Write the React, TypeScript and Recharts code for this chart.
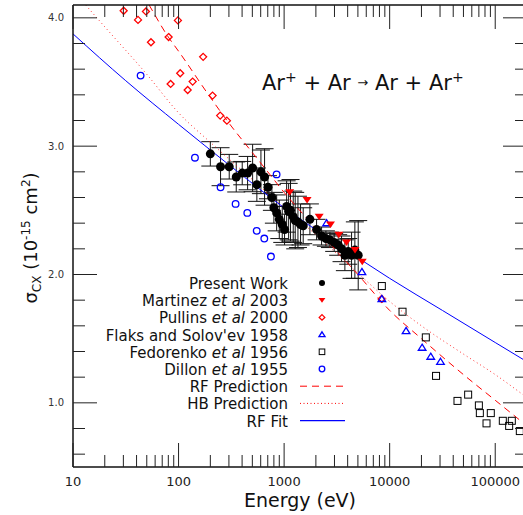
import React from 'react';
import {
  ComposedChart,
  Scatter,
  Line,
  XAxis,
  YAxis,
  ErrorBar,
  Legend,
} from 'recharts';

// energies in eV, cross sections in units of 1e-15 cm^2
const presentEnergy = [200, 250, 302, 352, 401, 451, 503, 552, 603, 653, 703, 766, 800, 850, 900, 960, 1010, 1057, 1104, 1150, 1220, 1274, 1352, 1432, 1517, 1755, 2031, 2265, 2489, 2716, 2981, 3253, 3500, 3764, 4048, 4356, 4680, 5034];
const presentSigma = [2.94, 2.84, 2.84, 2.76, 2.79, 2.79, 2.83, 2.7, 2.8, 2.76, 2.68, 2.6, 2.52, 2.48, 2.43, 2.39, 2.35, 2.53, 2.49, 2.5, 2.45, 2.42, 2.41, 2.39, 2.38, 2.43, 2.35, 2.3, 2.28, 2.27, 2.25, 2.23, 2.2, 2.15, 2.18, 2.15, 2.19, 2.15];
const presentErr = [0.095, 0.148, 0.096, 0.117, 0.091, 0.13, 0.185, 0.13, 0.17, 0.22, 0.09, 0.1, 0.12, 0.14, 0.15, 0.14, 0.12, 0.2, 0.22, 0.24, 0.2, 0.22, 0.2, 0.16, 0.14, 0.12, 0.08, 0.07, 0.06, 0.06, 0.07, 0.08, 0.1, 0.12, 0.1, 0.18, 0.22, 0.27];

const martinezEnergy = [1130, 1650, 2150, 2750, 3300, 3900, 4700, 5500];
const martinezSigma = [2.64, 2.58, 2.45, 2.39, 2.31, 2.25, 2.19, 2.1];

const pullinsEnergy = [30.2, 41.3, 49.1, 54.8, 80.5, 84.1, 98.6, 103.7, 122, 136, 171, 210, 248, 287, 8380];
const pullinsSigma = [4.055, 3.984, 4.05, 3.81, 3.85, 3.485, 3.98, 3.568, 3.438, 3.503, 3.696, 3.394, 3.238, 3.199, 1.81];

const flaksEnergy = [2524, 5460, 8430, 14300, 20300, 24500, 30300];
const flaksSigma = [2.4, 2.02, 1.81, 1.56, 1.43, 1.36, 1.32];

const fedorenkoEnergy = [8430, 13240, 22000, 27500, 43900, 55400, 70000, 71500, 82700, 90800, 118000, 135500, 143600, 171000];
const fedorenkoSigma = [1.91, 1.71, 1.51, 1.21, 1.015, 1.064, 0.98, 0.92, 0.84, 0.92, 0.86, 0.82, 0.86, 0.78];

const dillonEnergy = [43.7, 143, 250, 347, 448, 550, 649, 750, 849];
const dillonSigma = [3.55, 2.91, 2.68, 2.55, 2.48, 2.34, 2.28, 2.14, 2.78];

const rfFitEnergy = [10, 31.6, 100, 316, 1000, 3162, 10000, 31623, 100000, 200000];
const rfFitSigma = [3.875, 3.51, 3.17, 2.84, 2.52, 2.24, 1.97, 1.72, 1.47, 1.32];

const rfPredEnergy = [40, 50, 80, 100, 200, 300, 500, 700, 1000, 2000, 5000, 10000, 20000, 50000, 100000, 200000];
const rfPredSigma = [4.26, 4.13, 3.85, 3.74, 3.38, 3.18, 2.95, 2.8, 2.64, 2.36, 2.0, 1.72, 1.5, 1.22, 1.02, 0.82];

const hbPredEnergy = [10, 13.2, 20, 50, 100, 200, 500, 1000, 2000, 5000, 10000, 20000, 50000, 100000, 200000];
const hbPredSigma = [4.22, 4.1, 3.93, 3.56, 3.26, 3.03, 2.74, 2.52, 2.31, 2.01, 1.79, 1.6, 1.38, 1.22, 1.04];

const decades = [10, 100, 1000, 10000, 100000];
const minorSteps = [2, 3, 4, 5, 6, 7, 8, 9];
const xTicks = [...decades, ...decades.flatMap((d) => minorSteps.map((m) => d * m))].filter((t) => t <= 200000);
const yTicks = [0.6, 0.8, 1.0, 1.2, 1.4, 1.6, 1.8, 2.0, 2.2, 2.4, 2.6, 2.8, 3.0, 3.2, 3.4, 3.6, 3.8, 4.0];
const yMajor = [1.0, 2.0, 3.0, 4.0];

const rows = (e: number[], v: number[]) => e.map((x, i) => ({ e: x, v: v[i] }));
const presentData = presentEnergy.map((x, i) => ({ e: x, v: presentSigma[i], err: presentErr[i] }));

const FONT = '"DejaVu Sans", sans-serif';
const RED = '#ff0000';
const BLUE = '#0000ff';

const W = 528;
const H = 515;

// marker shapes, shared by the plot and the key
const Dot = ({ cx, cy, r = 4.5 }: any) => <circle cx={cx} cy={cy} r={r} fill="#000" />;
const DownTri = ({ cx, cy, s = 1 }: any) => (
  <polygon
    points={`${cx - 4.5 * s},${cy - 3 * s} ${cx + 4.5 * s},${cy - 3 * s} ${cx},${cy + 3.5 * s}`}
    fill={RED}
  />
);
const Diamond = ({ cx, cy, s = 1 }: any) => (
  <polygon
    points={`${cx},${cy - 3.5 * s} ${cx + 3.5 * s},${cy} ${cx},${cy + 3.5 * s} ${cx - 3.5 * s},${cy}`}
    fill="none"
    stroke={RED}
    strokeWidth={1.3}
  />
);
const UpTri = ({ cx, cy, s = 1 }: any) => (
  <polygon
    points={`${cx},${cy - 3.5 * s} ${cx + 3.8 * s},${cy + 2.6 * s} ${cx - 3.8 * s},${cy + 2.6 * s}`}
    fill="none"
    stroke={BLUE}
    strokeWidth={1.3}
  />
);
const Square = ({ cx, cy, s = 1 }: any) => (
  <rect x={cx - 3.5 * s} y={cy - 3.5 * s} width={7 * s} height={7 * s} fill="none" stroke="#000" strokeWidth={1} />
);
const Ring = ({ cx, cy, s = 1 }: any) => (
  <circle cx={cx} cy={cy} r={3.3 * s} fill="none" stroke={BLUE} strokeWidth={1.3} />
);

// inward ticks on all four sides; labels only on bottom and left
const BottomTick = ({ x, y, payload }: any) => {
  const major = decades.includes(payload.value);
  return (
    <g>
      <line x1={x} y1={y} x2={x} y2={y - (major ? 24 : 12)} stroke="#222" />
      {major && (
        <text x={x} y={y + 19} textAnchor="middle" fontSize={13} fontFamily={FONT} fill="#222">
          {payload.value}
        </text>
      )}
    </g>
  );
};
const TopTick = ({ x, y, payload }: any) => {
  const major = decades.includes(payload.value);
  return <line x1={x} y1={y} x2={x} y2={y + (major ? 24 : 12)} stroke="#222" />;
};
const LeftTick = ({ x, y, payload }: any) => {
  const major = yMajor.includes(payload.value);
  return (
    <g>
      <line x1={x} y1={y} x2={x + (major ? 24 : 12)} y2={y} stroke="#222" />
      {major && (
        <text x={x - 9} y={y + 3.5} textAnchor="end" fontSize={10} fontFamily={FONT} fill="#333">
          {payload.value.toFixed(1)}
        </text>
      )}
    </g>
  );
};
const RightTick = ({ x, y, payload }: any) => {
  const major = yMajor.includes(payload.value);
  return <line x1={x} y1={y} x2={x - (major ? 24 : 12)} y2={y} stroke="#222" />;
};

const keyRows = [
  { text: <>Present Work</>, mark: (cx: number, cy: number) => <Dot cx={cx} cy={cy} r={3} /> },
  { text: <>Martinez <tspan fontStyle="italic">et al</tspan> 2003</>, mark: (cx: number, cy: number) => <DownTri cx={cx} cy={cy} s={0.75} /> },
  { text: <>Pullins <tspan fontStyle="italic">et al</tspan> 2000</>, mark: (cx: number, cy: number) => <Diamond cx={cx} cy={cy} s={0.8} /> },
  { text: <>Flaks and Solov'ev 1958</>, mark: (cx: number, cy: number) => <UpTri cx={cx} cy={cy} s={0.8} /> },
  { text: <>Fedorenko <tspan fontStyle="italic">et al</tspan> 1956</>, mark: (cx: number, cy: number) => <Square cx={cx} cy={cy} s={0.8} /> },
  { text: <>Dillon <tspan fontStyle="italic">et al</tspan> 1955</>, mark: (cx: number, cy: number) => <Ring cx={cx} cy={cy} s={0.85} /> },
  { text: <>RF Prediction</>, mark: (_: number, cy: number) => <line x1={300} x2={345} y1={cy} y2={cy} stroke={RED} strokeDasharray="7 5" /> },
  { text: <>HB Prediction</>, mark: (_: number, cy: number) => <line x1={300} x2={345} y1={cy} y2={cy} stroke={RED} strokeDasharray="1 2.5" /> },
  { text: <>RF Fit</>, mark: (_: number, cy: number) => <line x1={300} x2={345} y1={cy} y2={cy} stroke={BLUE} strokeWidth={1.2} /> },
];

const renderKey = () => (
  <svg width={W} height={H} style={{ fontFamily: FONT }}>
    <text x={262} y={90} fontSize={21} fill="#111">
      Ar<tspan dy={-8} fontSize={14}>+</tspan>
      <tspan dy={8}> + Ar </tspan>
      <tspan dy={-3} fontSize={13}>→</tspan>
      <tspan dy={3}> Ar + Ar</tspan>
      <tspan dy={-8} fontSize={14}>+</tspan>
    </text>
    <text x={300} y={507} textAnchor="middle" fontSize={19} fill="#111">
      Energy (eV)
    </text>
    <text transform="translate(37,238) rotate(-90)" textAnchor="middle" fontSize={18} fill="#111">
      σ<tspan dy={4} fontSize={12}>CX</tspan>
      <tspan dy={-4}> (10</tspan>
      <tspan dy={-7} fontSize={12}>-15</tspan>
      <tspan dy={7}> cm</tspan>
      <tspan dy={-7} fontSize={12}>2</tspan>
      <tspan dy={7}>)</tspan>
    </text>
    {keyRows.map((row, i) => {
      const base = 289 + i * 17.2;
      return (
        <g key={i}>
          <text x={288} y={base} textAnchor="end" fontSize={15} fill="#111">
            {row.text}
          </text>
          {row.mark(322, base - 6)}
        </g>
      );
    })}
  </svg>
);

const App = () => {
  return (
    <div style={{ width: 523, height: H, overflow: 'hidden', position: 'relative' }}>
      <style>{'body { margin: 0; }'}</style>
      <ComposedChart width={W} height={H} margin={{ top: 4, right: 0, bottom: 0, left: 0 }}>
        <XAxis
          xAxisId="bottom"
          dataKey="e"
          type="number"
          scale="log"
          domain={[10, 200000]}
          allowDataOverflow
          ticks={xTicks}
          interval={0}
          tickSize={0}
          tickMargin={0}
          height={48}
          axisLine={{ stroke: '#111', strokeWidth: 1.5 }}
          tick={(p: any) => <BottomTick {...p} />}
        />
        <XAxis
          xAxisId="top"
          orientation="top"
          dataKey="e"
          type="number"
          scale="log"
          domain={[10, 200000]}
          allowDataOverflow
          ticks={xTicks}
          interval={0}
          tickSize={0}
          tickMargin={0}
          height={1}
          axisLine={{ stroke: '#111', strokeWidth: 1.5 }}
          tick={(p: any) => <TopTick {...p} />}
        />
        <YAxis
          yAxisId="left"
          dataKey="v"
          type="number"
          domain={[0.5, 4.1]}
          allowDataOverflow
          ticks={yTicks}
          interval={0}
          tickSize={0}
          tickMargin={0}
          width={73}
          axisLine={{ stroke: '#111', strokeWidth: 1.5 }}
          tick={(p: any) => <LeftTick {...p} />}
        />
        <YAxis
          yAxisId="right"
          orientation="right"
          type="number"
          domain={[0.5, 4.1]}
          allowDataOverflow
          ticks={yTicks}
          interval={0}
          tickSize={0}
          tickMargin={0}
          width={1}
          axisLine={{ stroke: '#111', strokeWidth: 1.5 }}
          tick={(p: any) => <RightTick {...p} />}
        />

        <Scatter
          name="Fedorenko et al 1956"
          xAxisId="bottom"
          yAxisId="left"
          data={rows(fedorenkoEnergy, fedorenkoSigma)}
          dataKey="v"
          isAnimationActive={false}
          shape={(p: any) => <Square cx={p.cx} cy={p.cy} />}
        />
        <Scatter
          name="Dillon et al 1955"
          xAxisId="bottom"
          yAxisId="left"
          data={rows(dillonEnergy, dillonSigma)}
          dataKey="v"
          isAnimationActive={false}
          shape={(p: any) => <Ring cx={p.cx} cy={p.cy} />}
        />
        <Scatter
          name="Present Work"
          xAxisId="bottom"
          yAxisId="left"
          data={presentData}
          dataKey="v"
          isAnimationActive={false}
          shape={(p: any) => <Dot cx={p.cx} cy={p.cy} />}
        >
          <ErrorBar dataKey="err" direction="y" width={9} stroke="#111" strokeWidth={1} isAnimationActive={false} />
        </Scatter>
        <Scatter
          name="Pullins et al 2000"
          xAxisId="bottom"
          yAxisId="left"
          data={rows(pullinsEnergy, pullinsSigma)}
          dataKey="v"
          isAnimationActive={false}
          shape={(p: any) => <Diamond cx={p.cx} cy={p.cy} />}
        />
        <Scatter
          name="Flaks and Solov'ev 1958"
          xAxisId="bottom"
          yAxisId="left"
          data={rows(flaksEnergy, flaksSigma)}
          dataKey="v"
          isAnimationActive={false}
          shape={(p: any) => <UpTri cx={p.cx} cy={p.cy} />}
        />
        <Scatter
          name="Martinez et al 2003"
          xAxisId="bottom"
          yAxisId="left"
          data={rows(martinezEnergy, martinezSigma)}
          dataKey="v"
          isAnimationActive={false}
          shape={(p: any) => <DownTri cx={p.cx} cy={p.cy} />}
        />

        <Line
          name="RF Prediction"
          xAxisId="bottom"
          yAxisId="left"
          data={rows(rfPredEnergy, rfPredSigma)}
          dataKey="v"
          type="monotone"
          stroke={RED}
          strokeWidth={1}
          strokeDasharray="7 5"
          dot={false}
          isAnimationActive={false}
        />
        <Line
          name="HB Prediction"
          xAxisId="bottom"
          yAxisId="left"
          data={rows(hbPredEnergy, hbPredSigma)}
          dataKey="v"
          type="monotone"
          stroke={RED}
          strokeOpacity={0.8}
          strokeWidth={1}
          strokeDasharray="1 3"
          dot={false}
          isAnimationActive={false}
        />
        <Line
          name="RF Fit"
          xAxisId="bottom"
          yAxisId="left"
          data={rows(rfFitEnergy, rfFitSigma)}
          dataKey="v"
          type="monotone"
          stroke={BLUE}
          strokeWidth={1}
          dot={false}
          isAnimationActive={false}
        />

        <Legend
          layout="vertical"
          align="center"
          verticalAlign="middle"
          content={renderKey}
          wrapperStyle={{ position: 'absolute', left: 0, top: 0, width: W, height: H, pointerEvents: 'none' }}
        />
      </ComposedChart>
    </div>
  );
};

export default App;
